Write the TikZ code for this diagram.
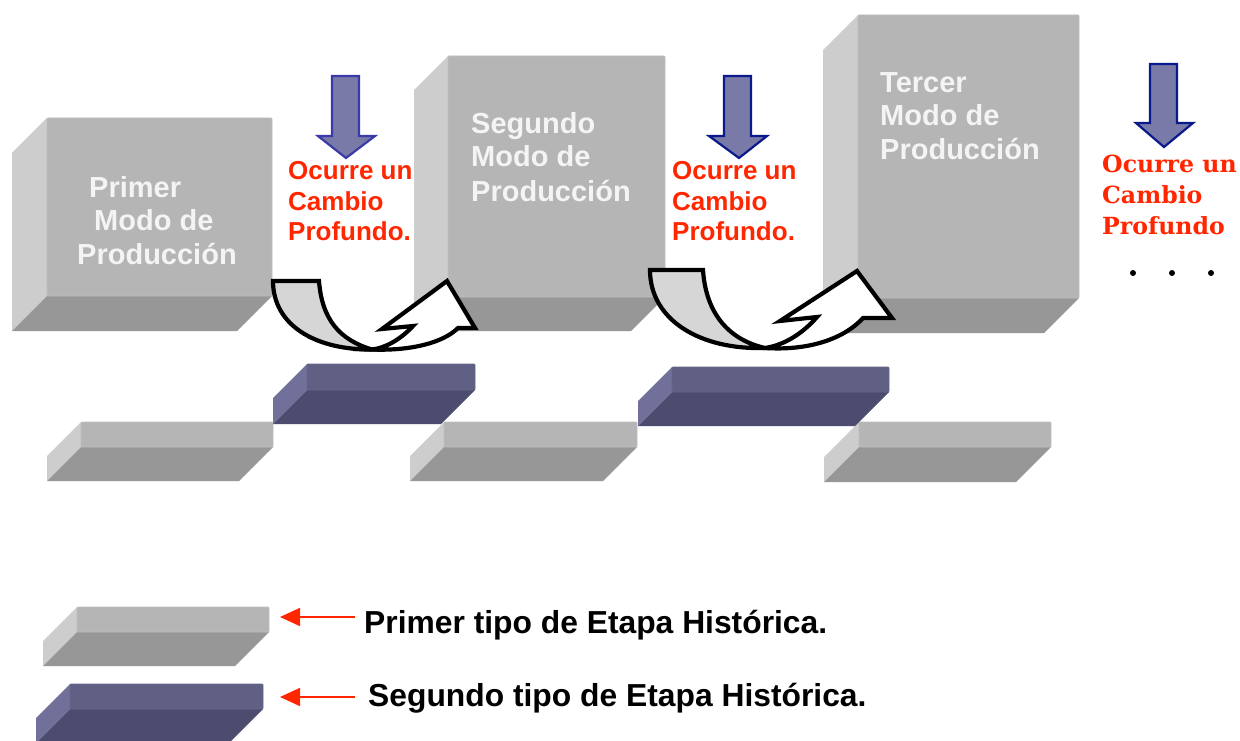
\documentclass[tikz,border=0pt]{standalone}
\usepackage{fontspec}
\setmainfont{Liberation Sans}
\newfontfamily\dejaserif{DejaVu Serif}
\definecolor{gfront}{HTML}{B5B5B5}
\definecolor{gleft}{HTML}{CDCDCD}
\definecolor{gbottom}{HTML}{979797}
\definecolor{gedge}{HTML}{BEBEBE}
\definecolor{bfront}{HTML}{606085}
\definecolor{bleft}{HTML}{71709A}
\definecolor{bbottom}{HTML}{4C4C6E}
\definecolor{bedge}{HTML}{67678C}
\definecolor{redtx}{HTML}{FF2600}
\definecolor{boxwhite}{HTML}{F4F4F4}
\definecolor{bandgray}{HTML}{D6D6D6}
\definecolor{darrowfill}{HTML}{7A7AA8}
\definecolor{darrowedgeA}{HTML}{3A3AA8}
\definecolor{darrowedgeB}{HTML}{0A1A8C}
\newcommand\cubeshape[9]{%
  \fill[#7] (#1,#2) -- (#1,#4) -- (#1-#5,#4+#5) -- (#1-#5,#2+#5) -- cycle;
  \fill[#8] (#1,#4) -- (#3,#4) -- (#3-#5,#4+#5) -- (#1-#5,#4+#5) -- cycle;
  \filldraw[fill=#6,draw=#9,line width=0.8pt,rounded corners=1pt] (#1,#2) rectangle (#3,#4);
}
\tikzset{
  boxtext/.style={font=\fontsize{29}{34}\selectfont\bfseries, text=boxwhite, inner sep=0pt, anchor=base west},
  redtext/.style={font=\fontsize{26}{31}\selectfont\bfseries, text=redtx, inner sep=0pt, anchor=base west},
  redserif/.style={font=\dejaserif\fontsize{23.6}{31}\selectfont\bfseries, text=redtx, inner sep=0pt, anchor=base west},
  legendtext/.style={font=\fontsize{31.8}{36}\selectfont\bfseries, text=black, inner sep=0pt, anchor=base west},
  bandstyle/.style={fill=bandgray, draw=black, line width=4.2pt, line join=miter},
  uarrowstyle/.style={fill=white, draw=black, line width=4.2pt, line join=miter},
  downarrowA/.style={fill=darrowfill, draw=darrowedgeA, line width=2.2pt},
  downarrowB/.style={fill=darrowfill, draw=darrowedgeB, line width=2.2pt},
  legendarrow/.style={draw=redtx, line width=1.8pt, -{Triangle[length=20pt,width=18pt]}},
  dotstyle/.style={circle, fill=black, inner sep=0pt, minimum size=6pt},
}
\usetikzlibrary{arrows.meta}
\begin{document}
\begin{tikzpicture}[x=1pt,y=-1pt]
\useasboundingbox (0,0) rectangle (1240,741);
\fill[white] (0,0) rectangle (1240,741);

% big cubes
\cubeshape{47}{118}{272}{296}{35}{gfront}{gleft}{gbottom}{gedge}
\cubeshape{448}{56}{665}{297}{34}{gfront}{gleft}{gbottom}{gedge}
\cubeshape{858}{15}{1079}{298}{35}{gfront}{gleft}{gbottom}{gedge}

% gray slabs
\cubeshape{81}{422}{273}{447}{34}{gfront}{gleft}{gbottom}{gedge}
\cubeshape{444}{422}{637}{447}{34}{gfront}{gleft}{gbottom}{gedge}
\cubeshape{859}{422}{1051}{447}{35}{gfront}{gleft}{gbottom}{gedge}
% blue slabs
\cubeshape{307}{364}{475}{390}{34}{bfront}{bleft}{bbottom}{bedge}
\cubeshape{672}{367}{889}{392}{34}{bfront}{bleft}{bbottom}{bedge}

% legend slabs
\cubeshape{77}{607}{269}{632}{34}{gfront}{gleft}{gbottom}{gedge}
\cubeshape{70}{684}{263}{709}{34}{bfront}{bleft}{bbottom}{bedge}

% box texts
\node[boxtext] (b1a) at (89,197) {Primer};
\node[boxtext] (b1b) at (94,230) {Modo de};
\node[boxtext] (b1c) at (77,264) {Producción};
\node[boxtext] (b2a) at (471,134) {Segundo};
\node[boxtext] (b2b) at (471,167) {Modo de};
\node[boxtext] (b2c) at (471,201) {Producción};
\node[boxtext] (b3a) at (880,93) {Tercer};
\node[boxtext] (b3b) at (880,126) {Modo de};
\node[boxtext] (b3c) at (880,160) {Producción};

% down arrows
\draw[downarrowA] (332,76) -- (359,76) -- (359,136) -- (375,136) -- (346,158) -- (318,136) -- (332,136) -- cycle;
\draw[downarrowB] (724,76) -- (751,76) -- (751,136) -- (767,136) -- (739,158) -- (709,136) -- (724,136) -- cycle;
\draw[downarrowB] (1150,64) -- (1177,64) -- (1177,123) -- (1193,123) -- (1164,147) -- (1136,123) -- (1150,123) -- cycle;

% red texts
\node[redtext] (r1a) at (288,179) {Ocurre un};
\node[redtext] (r1b) at (288,210) {Cambio};
\node[redtext] (r1c) at (288,240) {Profundo.};
\node[redtext] (r2a) at (672,179) {Ocurre un};
\node[redtext] (r2b) at (672,210) {Cambio};
\node[redtext] (r2c) at (672,240) {Profundo.};
\node[redserif] (r3a) at (1102,172) {Ocurre un};
\node[redserif] (r3b) at (1102,204) {Cambio};
\node[redserif] (r3c) at (1102,234) {Profundo};
\node[dotstyle] (d1) at (1133,273) {};
\node[dotstyle] (d2) at (1172,273) {};
\node[dotstyle] (d3) at (1211,273) {};

% curved arrow 1
\draw[bandstyle] (273,281) -- (319,281) .. controls (322,320) and (340,340) .. (372,349.5)
  .. controls (315,350) and (273,325) .. cycle;
\draw[uarrowstyle] (372,349.5) .. controls (410,351) and (443,343) .. (458,328) -- (475,328) -- (447,281)
  -- (382,329) -- (413,326) .. controls (400,340) and (385,348) .. cycle;

% curved arrow 2
\draw[bandstyle] (650,270) -- (703,270) .. controls (706,315) and (730,340) .. (765,348)
  .. controls (700,350) and (650,320) .. cycle;
\draw[uarrowstyle] (765,348) .. controls (810,351) and (845,338) .. (863,318) -- (892,318) -- (857,271)
  -- (780,321) -- (817,317) .. controls (803,333) and (785,345) .. cycle;

% legend
\node[legendtext] (l1) at (364,633) {Primer tipo de Etapa Histórica.};
\node[legendtext] (l2) at (368,706) {Segundo tipo de Etapa Histórica.};
\coordinate (l1s) at (355,617);
\coordinate (l1e) at (280,617);
\coordinate (l2s) at (355,697);
\coordinate (l2e) at (280,697);
\draw[legendarrow] (l1s) -- (l1e);
\draw[legendarrow] (l2s) -- (l2e);
\end{tikzpicture}
\end{document}
